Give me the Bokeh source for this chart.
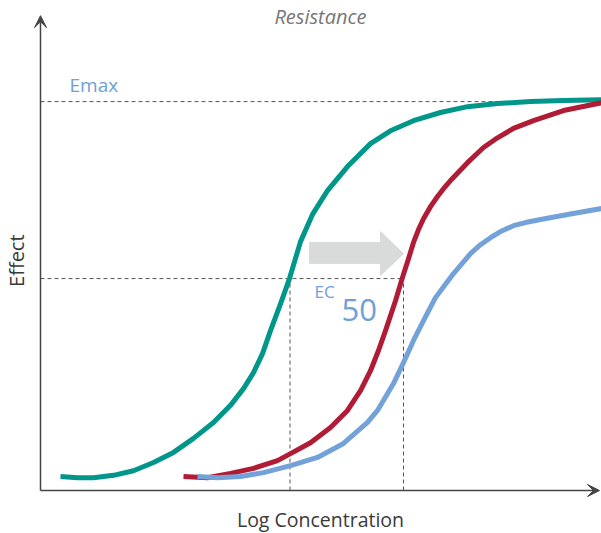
from bokeh.plotting import figure
from bokeh.models import Range1d, Label, Arrow, VeeHead
from bokeh.embed import file_html
from bokeh.resources import INLINE
import math

# Log concentration (arbitrary units) vs Effect (% of Emax)
teal_x = [4, 7.4, 10.6, 14.6, 18.6, 22.6, 26.6, 30.6, 34.6, 38, 40.6, 42.6, 44.4, 46, 48, 49.8,
          52, 54.4, 57.4, 61.4, 66, 70, 74.6, 80, 85.4, 91.4, 98, 104.6, 112.2]
teal_y = [3.6, 3.3, 3.3, 3.9, 5.1, 7.2, 9.8, 13.4, 17.5, 21.9, 26.2, 30.3, 35.2, 41.1, 48.0, 54.5,
          64.0, 71.0, 77.1, 83.3, 89.2, 92.5, 95.1, 97.2, 98.7, 99.5, 100.0, 100.3, 100.5]

red_x = [28.6, 33.4, 38, 42.6, 47.4, 50, 54, 58, 61.4, 64, 66, 67.6, 69, 71, 72.4, 73.6, 74.6,
         75.6, 76.6, 78, 79.4, 80.6, 82, 85.4, 88.6, 91.4, 94.6, 98.6, 104.6, 112.2]
red_y = [3.6, 3.3, 4.4, 5.7, 7.7, 9.5, 12.3, 16.2, 20.6, 25.7, 30.8, 36.0, 41.1, 48.8, 54.8, 59.6,
         63.8, 67.1, 69.9, 73.0, 75.6, 77.6, 79.7, 84.3, 88.2, 90.7, 93.1, 95.1, 97.7, 99.7]

blue_x = [31.4, 35.4, 40, 44.6, 50, 55.4, 60.6, 65.4, 67.4, 70.6, 72.6, 74.6, 76.6, 79, 82.6, 86,
          88, 90, 92, 94.6, 97, 100, 106, 112.2]
blue_y = [3.6, 3.3, 3.6, 4.6, 6.4, 8.5, 12.1, 17.5, 20.6, 27.5, 32.9, 38.6, 43.7, 49.6, 55.8, 60.9,
          63.2, 65.0, 66.6, 68.1, 68.9, 69.7, 71.1, 72.5]

emax = 100
ec50_effect = 54.5
ec50_x = [49.9, 72.6]

shift_arrow_x = [53.8, 68, 68, 72.6, 68, 68, 53.8]
shift_arrow_y = [63.8, 63.8, 66.6, 60.9, 55.3, 58.4, 58.4]

FONT = "Open Sans"
LABEL_BLUE = "#6fa0d8"
DASH = "#555555"

p = figure(width=601, height=533, output_backend="svg", toolbar_location=None,
           x_range=Range1d(-8.0, 112.2), y_range=Range1d(-11.05, 126.0),
           x_axis_type=None, y_axis_type=None, min_border=0)
p.grid.visible = False
p.outline_line_color = None
p.background_fill_color = "white"
p.border_fill_color = "white"

# Reference dashed lines
p.line([0, 112.2], [emax, emax], line_color=DASH, line_width=1, line_dash="4 3")
p.line([0, ec50_x[1]], [ec50_effect, ec50_effect], line_color=DASH, line_width=1, line_dash="4 3")
p.segment(x0=ec50_x, y0=[0, 0], x1=ec50_x, y1=[ec50_effect, ec50_effect],
          line_color=DASH, line_width=1, line_dash="4 3")

# shift arrow
p.patch(shift_arrow_x, shift_arrow_y, fill_color="#d9dbda", line_color="#d9dbda")

# curves
p.line(teal_x, teal_y, line_color="#00968a", line_width=5, line_join="round")
p.line(red_x, red_y, line_color="#b01c35", line_width=5, line_join="round")
p.line(blue_x, blue_y, line_color="#72a2d9", line_width=5, line_join="round")

# axes with arrows
p.add_layout(Arrow(end=VeeHead(size=12, fill_color="#444444", line_color="#444444", line_width=1),
                   x_start=0, y_start=0, x_end=0, y_end=122.1,
                   line_color="#444444", line_width=1.5))
p.add_layout(Arrow(end=VeeHead(size=12, fill_color="#444444", line_color="#444444", line_width=1),
                   x_start=0, y_start=0, x_end=111.8, y_end=0,
                   line_color="#444444", line_width=1.5))

# texts
p.add_layout(Label(x=56, y=121.9, text="Resistance", text_font=FONT, text_font_size="20px",
                   text_font_style="italic", text_color="#777777",
                   text_align="center", text_baseline="middle"))
p.add_layout(Label(x=5.8, y=104.4, text="Emax", text_font=FONT, text_font_size="19px",
                   text_color=LABEL_BLUE, text_align="left", text_baseline="middle"))
p.add_layout(Label(x=54.8, y=51.2, text="EC", text_font=FONT, text_font_size="17px",
                   text_color=LABEL_BLUE, text_align="left", text_baseline="middle"))
p.add_layout(Label(x=60.2, y=46.5, text="50", text_font=FONT, text_font_size="31px",
                   text_color=LABEL_BLUE, text_align="left", text_baseline="middle"))
p.add_layout(Label(x=56, y=-7.4, text="Log Concentration", text_font=FONT, text_font_size="19.5px",
                   text_color="#3a3a3a", text_align="center", text_baseline="middle"))
p.add_layout(Label(x=-4.8, y=59.1, text="Effect", text_font=FONT, text_font_size="20px",
                   text_color="#3a3a3a", text_align="center", text_baseline="middle",
                   angle=math.pi / 2))

open("out.html", "w").write(file_html(p, INLINE))
